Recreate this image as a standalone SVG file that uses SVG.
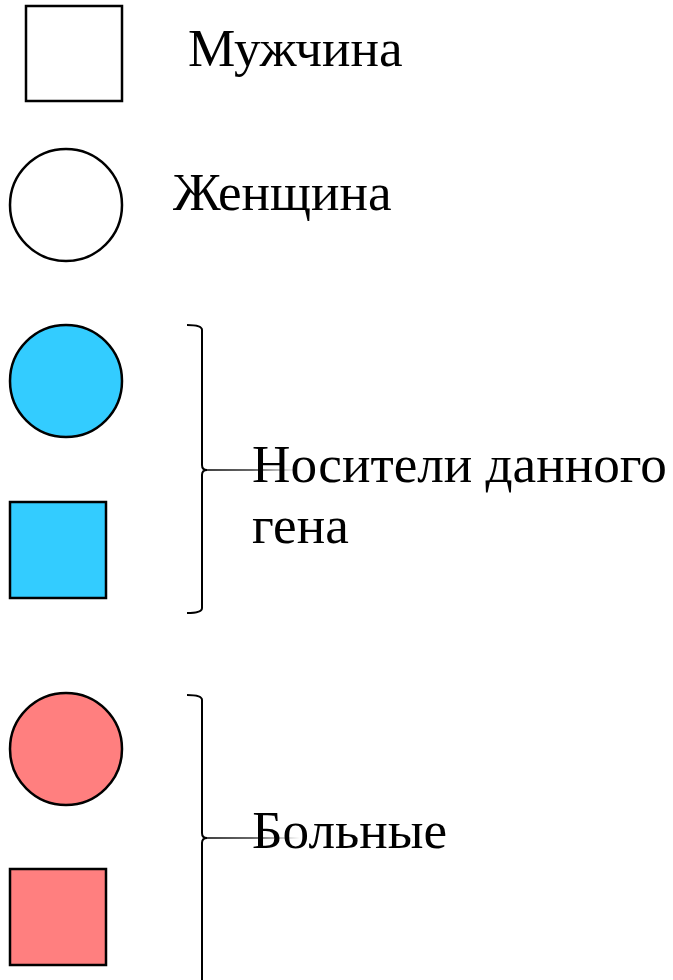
<svg xmlns="http://www.w3.org/2000/svg" width="673" height="980" viewBox="0 0 673 980">
  <defs>
    <linearGradient id="fade" gradientUnits="userSpaceOnUse" x1="204" y1="0" x2="300" y2="0">
      <stop offset="0" stop-color="#000"/>
      <stop offset="0.5" stop-color="#000" stop-opacity="0.8"/>
      <stop offset="1" stop-color="#000" stop-opacity="0"/>
    </linearGradient>
  </defs>
  <style>
    .sym { stroke: #000; stroke-width: 2.5; }
    .blank { fill: #fff; }
    .carrier { fill: #33ccff; }
    .ill { fill: #ff7f7f; }
    .label { font-family: "Liberation Serif", "Times New Roman", serif; font-size: 53.2px; fill: #000; }
    .brace { fill: none; stroke: #000; stroke-width: 2; }
    .lead { stroke: url(#fade); stroke-width: 1.6; }
  </style>
  <rect width="673" height="980" fill="#fff"/>

  <g id="male">
    <rect class="sym blank" x="26" y="6" width="96" height="95"/>
    <text class="label" x="188" y="66">Мужчина</text>
  </g>

  <g id="female">
    <circle class="sym blank" cx="66" cy="205" r="56"/>
    <text class="label" x="173" y="210">Женщина</text>
  </g>

  <g id="carrier-female">
    <circle class="sym carrier" cx="66" cy="381" r="56"/>
  </g>
  <g id="carrier-male">
    <rect class="sym carrier" x="10" y="502" width="96" height="96"/>
  </g>

  <g id="ill-female">
    <circle class="sym ill" cx="66" cy="749" r="56"/>
  </g>
  <g id="ill-male">
    <rect class="sym ill" x="10" y="869" width="96" height="96"/>
  </g>

  <g id="connectors">
    <path class="brace" d="M187 325 Q202 325 202 330 L202 465 Q202 470 207 470 Q202 470 202 475 L202 608 Q202 613 187 613"/>
    <line class="lead" x1="204" y1="470" x2="300" y2="470"/>
    <path class="brace" d="M187 695 Q202 695 202 700 L202 833 Q202 838 207 838 Q202 838 202 843 L202 982"/>
    <line class="lead" x1="204" y1="838" x2="300" y2="838"/>
  </g>

  <g id="carrier-label">
    <text class="label" x="252" y="482">Носители данного</text>
    <text class="label" x="252" y="543">гена</text>
  </g>
  <g id="ill-label">
    <text class="label" x="252" y="848">Больные</text>
  </g>
</svg>
